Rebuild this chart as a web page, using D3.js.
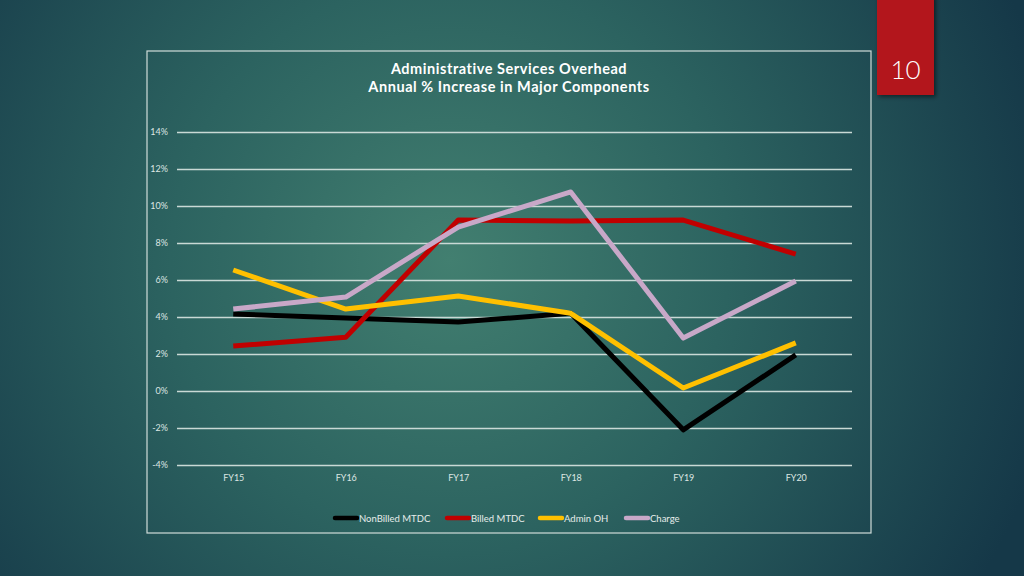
<!DOCTYPE html>
<html><head><meta charset="utf-8">
<script src="https://cdn.jsdelivr.net/npm/d3@7"></script>
<style>html,body{margin:0;padding:0;overflow:hidden;background:#1b4450;}svg{display:block;}</style>
</head><body>
<script>
const categories = ["FY15","FY16","FY17","FY18","FY19","FY20"];
const nonBilled = [4.16, 3.95, 3.73, 4.2, -2.1, 1.95];
const billed = [2.43, 2.9, 9.24, 9.19, 9.24, 7.4];
const adminOH = [6.54, 4.43, 5.14, 4.2, 0.16, 2.6];
const charge = [4.43, 5.08, 8.86, 10.76, 2.86, 5.95];
const yTicks = [-4,-2,0,2,4,6,8,10,12,14];
const seriesNames = ["NonBilled MTDC","Billed MTDC","Admin OH","Charge"];
const seriesColors = ["#000000","#C00000","#FFC000","#C8A8C8"];
const seriesValues = [nonBilled, billed, adminOH, charge];

const W=1024,H=576;
const svg=d3.select("body").append("svg").attr("width",W).attr("height",H);
const defs=svg.append("defs");
const rg=defs.append("radialGradient").attr("id","bg").attr("gradientUnits","userSpaceOnUse")
  .attr("cx",450).attr("cy",260).attr("r",620);
rg.append("stop").attr("offset","0").attr("stop-color","#427f70");
rg.append("stop").attr("offset","0.45").attr("stop-color","#2c6360");
rg.append("stop").attr("offset","1").attr("stop-color","#153848");
svg.append("rect").attr("width",W).attr("height",H).attr("fill","url(#bg)");

const sh=defs.append("filter").attr("id","sh").attr("x","-30%").attr("y","-30%").attr("width","160%").attr("height","160%");
sh.append("feDropShadow").attr("dx",2).attr("dy",2).attr("stdDeviation",2).attr("flood-color","#000").attr("flood-opacity",0.5);

// slide number tab
svg.append("rect").attr("x",877).attr("y",-5).attr("width",57).attr("height",100).attr("fill","#B3161A").attr("filter","url(#sh)");
svg.append("text").attr("x",905.5).attr("y",79).attr("text-anchor","middle").attr("fill","#fff")
  .attr("font-family","Lato, sans-serif").attr("font-weight",300).attr("font-size",26).text("10");

// chart frame
svg.append("rect").attr("x",147).attr("y",51).attr("width",724).attr("height",482)
  .attr("fill","none").attr("stroke","#d0dcd9").attr("stroke-width",1.2);

const x=d3.scalePoint().domain(categories).range([177,852]).padding(0.5);
const y=d3.scaleLinear().domain([-4,14]).range([465,132]);

// title
const title=svg.append("text").attr("text-anchor","middle").attr("fill","#fff")
  .attr("font-family","Lato, sans-serif").attr("font-weight",700).attr("font-size",14.5).attr("letter-spacing",0.55);
title.append("tspan").attr("x",509).attr("y",74).text("Administrative Services Overhead");
title.append("tspan").attr("x",509).attr("y",92).text("Annual % Increase in Major Components");

// gridlines
const yAxis=d3.axisLeft(y).tickValues(yTicks).tickSize(-(852-177)).tickFormat(d=>d+"%");
const ga=svg.append("g").attr("transform","translate(177,0)").call(yAxis);
ga.select(".domain").remove();
ga.selectAll(".tick line").attr("stroke","#c9d9d5").attr("stroke-width",1.6);
ga.selectAll(".tick text").attr("x",-9).attr("fill","#dde6e3").attr("font-family","Lato, sans-serif").attr("font-size",9);

const xAxis=d3.axisBottom(x).tickSize(0);
const gx=svg.append("g").attr("transform","translate(0,472)").call(xAxis);
gx.select(".domain").remove();
gx.selectAll(".tick text").attr("fill","#dde6e3").attr("font-family","Lato, sans-serif").attr("font-size",9).attr("dy","0.71em");

const line=d3.line().x((d,i)=>x(categories[i])).y(d=>y(d));
seriesValues.forEach((vals,k)=>{
  svg.append("path").datum(vals).attr("d",line).attr("fill","none")
    .attr("stroke",seriesColors[k]).attr("stroke-width",5).attr("stroke-linejoin","round");
});

// legend
const legX=[335,447,540,626];
seriesNames.forEach((n,k)=>{
  const g=svg.append("g").attr("transform",`translate(${legX[k]},518)`);
  g.append("line").attr("x1",0).attr("x2",22).attr("stroke",seriesColors[k]).attr("stroke-width",4.5).attr("stroke-linecap","round");
  g.append("text").attr("x",24).attr("y",3.5).attr("fill","#e6ecea").attr("font-family","Lato, sans-serif").attr("font-size",9.5).text(n);
});
</script>
</body></html>
